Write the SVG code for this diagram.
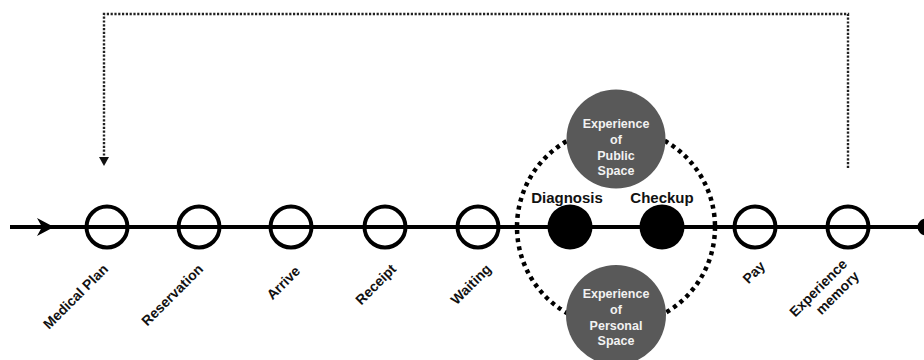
<svg xmlns="http://www.w3.org/2000/svg" width="924" height="360" viewBox="0 0 924 360">
<defs>
<style>
.step{fill:none;stroke:#000;stroke-width:4}
.act{fill:#000}
.space{fill:#595959}
.lbl{font-family:"Liberation Sans",Arial,sans-serif;font-weight:bold;font-size:14px;fill:#111;text-anchor:end}
.hd{font-family:"Liberation Sans",Arial,sans-serif;font-weight:bold;font-size:15px;fill:#111;text-anchor:middle}
.sp{font-family:"Liberation Sans",Arial,sans-serif;font-weight:bold;font-size:12.5px;fill:#f2f2f2;text-anchor:middle}
.dots{fill:none;stroke:#222;stroke-width:2.4;stroke-dasharray:2.2 1.6}
</style>
</defs>
<rect width="924" height="360" fill="#fff"/>
<g id="connectors">
<line x1="10" y1="227" x2="924" y2="227" stroke="#000" stroke-width="4"/>
<polygon points="54,227 37,218 42,227 37,236" fill="#000"/>
<path class="dots" d="M848,168 L848,14 L104,14 L104,158"/>
<polygon points="99,157 109,157 104,166" fill="#111"/>
</g>
<g id="boundary">
<circle cx="616" cy="227" r="99" fill="none" stroke="#000" stroke-width="4.5" stroke-dasharray="4 4.2"/>
</g>
<g id="medical-plan">
<circle class="step" cx="107" cy="227" r="20.5"/>
<text class="lbl" transform="translate(109,270) rotate(-45)">Medical Plan</text>
</g>
<g id="reservation">
<circle class="step" cx="199" cy="227" r="20.5"/>
<text class="lbl" transform="translate(204,270) rotate(-45)">Reservation</text>
</g>
<g id="arrive">
<circle class="step" cx="291" cy="227" r="20.5"/>
<text class="lbl" transform="translate(301,272) rotate(-45)">Arrive</text>
</g>
<g id="receipt">
<circle class="step" cx="385" cy="227" r="20.5"/>
<text class="lbl" transform="translate(397,270) rotate(-45)">Receipt</text>
</g>
<g id="waiting">
<circle class="step" cx="478" cy="227" r="20.5"/>
<text class="lbl" transform="translate(492,270) rotate(-45)">Waiting</text>
</g>
<g id="diagnosis">
<circle class="act" cx="570" cy="227" r="22.5"/>
<text class="hd" x="567" y="203">Diagnosis</text>
</g>
<g id="checkup">
<circle class="act" cx="662" cy="227" r="22.5"/>
<text class="hd" x="662" y="203">Checkup</text>
</g>
<g id="pay">
<circle class="step" cx="755" cy="227" r="20.5"/>
<text class="lbl" transform="translate(766,267) rotate(-45)">Pay</text>
</g>
<g id="experience-memory">
<circle class="step" cx="848" cy="227" r="20.5"/>
<text class="lbl" transform="translate(848,265) rotate(-45)">Experience</text>
<text class="lbl" transform="translate(860,277) rotate(-45)">memory</text>
</g>
<g id="end">
<circle cx="926" cy="227" r="8.5" fill="#000"/>
</g>
<g id="public-space">
<circle class="space" cx="616" cy="139" r="49.5"/>
<text class="sp" x="616" y="127.5">Experience</text>
<text class="sp" x="616" y="144">of</text>
<text class="sp" x="616" y="159.5">Public</text>
<text class="sp" x="616" y="175">Space</text>
</g>
<g id="personal-space">
<circle class="space" cx="616" cy="315" r="50"/>
<text class="sp" x="616" y="297.5">Experience</text>
<text class="sp" x="616" y="314">of</text>
<text class="sp" x="616" y="329.5">Personal</text>
<text class="sp" x="616" y="345">Space</text>
</g>
</svg>
